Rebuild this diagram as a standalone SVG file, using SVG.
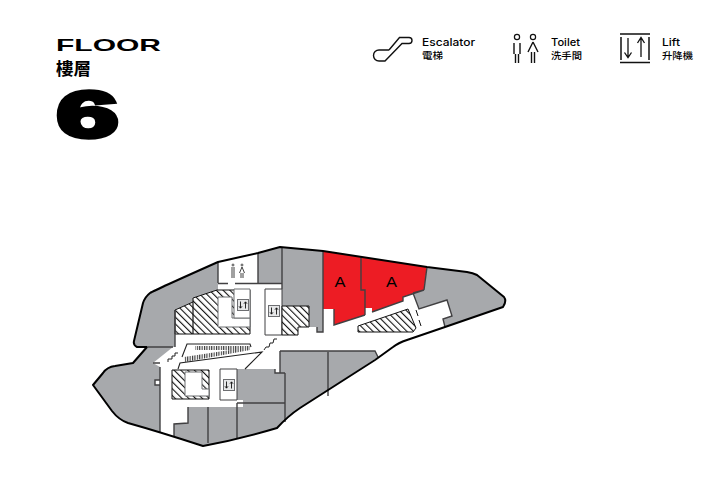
<svg xmlns="http://www.w3.org/2000/svg" width="710" height="480" viewBox="0 0 710 480">
<style>
text{font-family:"Liberation Sans","Noto Sans CJK TC",sans-serif;fill:#000}
.cjk{font-family:"Noto Sans CJK TC",sans-serif;font-weight:700}
.lg{font-family:Inter,"Liberation Sans",sans-serif;font-size:10px;font-weight:500}
.lc{font-size:9.5px}
.g{fill:#a7a9ac;stroke:none}
.r{fill:#ed1c24;stroke:none}
.l{fill:none;stroke:#414042;stroke-width:1.4}
.k{fill:none;stroke:#111;stroke-width:1.2}
.h{fill:url(#hatch);stroke:#111;stroke-width:1}
.i{fill:none;stroke:#111;stroke-width:1.4}
</style>
<defs>
<pattern id="hatch" width="4.800" height="4.800" patternUnits="userSpaceOnUse" patternTransform="rotate(-45)">
<rect width="4.800" height="4.800" fill="#fff"/><rect width="1.100" height="4.800" fill="#111"/>
</pattern>
<pattern id="stripe" width="2.400" height="4" patternUnits="userSpaceOnUse">
<rect width="2.400" height="4" fill="#fff"/><rect width="1.100" height="4" fill="#333"/>
</pattern>
<g id="lifticon">
<rect x="0.500" y="0.500" width="11" height="11" fill="#e6e7e8" stroke="#6d6e71"/>
<path d="M3.500 2.500V9M2 7.300L3.500 9.200L5 7.300M8.500 9.500V3M7 4.700L8.500 2.800L10 4.700" fill="none" stroke="#111" stroke-width="0.900"/>
</g>
</defs>

<g id="title">
<text x="56" y="51" font-size="17" font-weight="700" textLength="105" lengthAdjust="spacingAndGlyphs">FLOOR</text>
<text class="cjk" x="56" y="75" font-size="17.500">樓層</text>
<text x="56.500" y="137" font-size="65" font-weight="700" textLength="62" lengthAdjust="spacingAndGlyphs" stroke="#000" stroke-width="4.500">6</text>
</g>

<g id="legend">
<g id="legend-escalator">
<path class="i" d="M389 50H379A5.500 5.500 0 0 0 379 61H385L402 43.500H409A3 3 0 0 0 409 37.500H399.500L389 50"/>
<text class="lg" x="422" y="45.500" textLength="53" lengthAdjust="spacingAndGlyphs">Escalator</text>
<text class="cjk lc" x="422" y="58.800" style="font-weight:500" textLength="21" lengthAdjust="spacingAndGlyphs">電梯</text>
</g>
<g id="legend-toilet">
<circle class="i" cx="517" cy="37" r="2.600" style="stroke-width:1.200"/>
<circle class="i" cx="533" cy="37" r="2.600" style="stroke-width:1.200"/>
<path class="i" d="M514 43V54M520 43V54M515.500 54V63M518.500 54V63M533 42L528 52M533 42L538 52M531.500 52V63M534.500 52V63"/>
<text class="lg" x="551" y="45.500" textLength="29" lengthAdjust="spacingAndGlyphs">Toilet</text>
<text class="cjk lc" x="551" y="58.800" style="font-weight:500" textLength="31" lengthAdjust="spacingAndGlyphs">洗手間</text>
</g>
<g id="legend-lift">
<path class="i" d="M620 34H650M620 62.500H650M621 37V60M649 37V60" style="stroke-width:1.500"/>
<path class="i" d="M628 38V57M624.500 52.500L628 57.500L631.500 52.500M641 57V38M637.500 43L641 37.500L644.500 43" style="stroke-width:1.300"/>
<text class="lg" x="662" y="45.500" textLength="18" lengthAdjust="spacingAndGlyphs">Lift</text>
<text class="cjk lc" x="662" y="58.800" style="font-weight:500" textLength="31" lengthAdjust="spacingAndGlyphs">升降機</text>
</g>
</g>

<g id="plan">
<path class="g" d="M137 347Q133 345 134 341L143 303Q145 297 150 293Q155 290 218 262L218 290L193 298V302L175 310V347H173L153 363L160 367V380H155V385H160V432L174 437V424L188 423V407H243V400H237V369H275V373H285L280 373V351H375L378 357L300 408Q288 416 277 428Q240 439 203 446Q160 432 128 423Q119 420 112 411L93 385L103 373Q107 367 115 366L133 363L147 347Z"/>
<path class="g" d="M258 253L280 247L323 251V332H317V327H309V306H282V283H258Z"/>
<path class="r" d="M323 251L361 257V290H365V315L334 325V309H323Z"/>
<path class="r" d="M361 257L427 267L424 290L403 297V301L372 312V308H365V290H361Z"/>
<path class="g" d="M427 267L467 272Q473 273 477 275L504 297Q507 301 503 307L445 327L443 319L452 316L447 300L419 309L413 293L424 290Z"/>
<path class="h" d="M175 310L193 302V298L217 290H250V334H175Z"/>
<path d="M218 297H232V318H250V327H218Z" fill="#fff" stroke="#6d6e71"/>
<path d="M234 289H250V318H234Z" fill="#fff" stroke="#6d6e71"/>
<path class="k" d="M193 302V334"/>
<use href="#lifticon" x="237" y="299"/>
<path d="M265 289H282V335H265Z" fill="#fff" stroke="#414042"/>
<use href="#lifticon" x="268" y="305"/>
<path class="h" d="M282 306H309V327H298V335H282Z"/>
<path class="h" d="M172 370H209V399H172Z"/>
<path d="M185 372H202V389H209V396H185Z" fill="#fff" stroke="#6d6e71"/>
<path d="M220 369H237V400H220Z" fill="#fff" stroke="#414042"/>
<use href="#lifticon" x="223" y="379"/>
<path class="h" d="M358 326L408 309L416 328L413 332H358Z"/>
<path d="M184 357L250 347L250 350L185 362Z" fill="url(#stripe)"/>
<path d="M195 346H250V350H195Z" fill="url(#stripe)"/>
<path class="l" d="M182 357L187 344H250L251 347M178 369L180 363L262 352L245 369" style="stroke:#222;stroke-width:1.100"/>
<path class="l" d="M168 362V359H172V356H175V353H178M264 350L266 347H269L270 343H273L274 339H277" style="stroke:#222;stroke-width:1"/>
<path class="l" d="M147 347H173M218 262V283M218 283.500H228M235 283.500H282M282 247V289M258 253V283M175 310V347M323 251V332H317V327M361 257V290H365V315M334 309V325L365 315M280 351V373M328 352V396M285 373V422M275 369V373H285M237 403H285M237 403V438M208 407V443M160 367V432M188 407V423L174 424V437M153 363H160M160 380H155V385H160M424 290L427 267M424 290L403 297V301L372 312M413 293L419 309L447 300L452 316L443 319L445 327M413 293L424 290M280 351H375L378 357"/>
<path d="M416 310L418 316M419 320L421 326" stroke="#111" fill="none"/>
<path fill="none" stroke="#000" stroke-width="2" stroke-linejoin="round" d="M147 347H137Q133 345 134 341L143 303Q145 297 150 293Q155 290 218 262L258 253L280 247L323 251L427 267L467 272Q473 273 477 275L504 297Q507 301 503 307L445 327L407 340Q398 343 393 347L375 360L300 408Q288 416 277 428Q240 439 203 446Q160 432 128 423Q119 420 112 411L93 385L103 373Q107 367 115 366L133 363L147 347"/>
<g id="toilets">
<circle cx="233" cy="265" r="1" class="k" style="stroke-width:.7"/><circle cx="242" cy="265" r="1" class="k" style="stroke-width:.7"/>
<path d="M232 267V278M234 267V278M242 267L239.500 273M242 267L244.500 273M241 273V278M243 273V278" class="k" style="stroke-width:.8"/>
</g>
<text x="340" y="287" font-size="15" text-anchor="middle" textLength="11" lengthAdjust="spacingAndGlyphs">A</text>
<text x="391.500" y="287" font-size="15" text-anchor="middle" textLength="11" lengthAdjust="spacingAndGlyphs">A</text>
</g>
</svg>
